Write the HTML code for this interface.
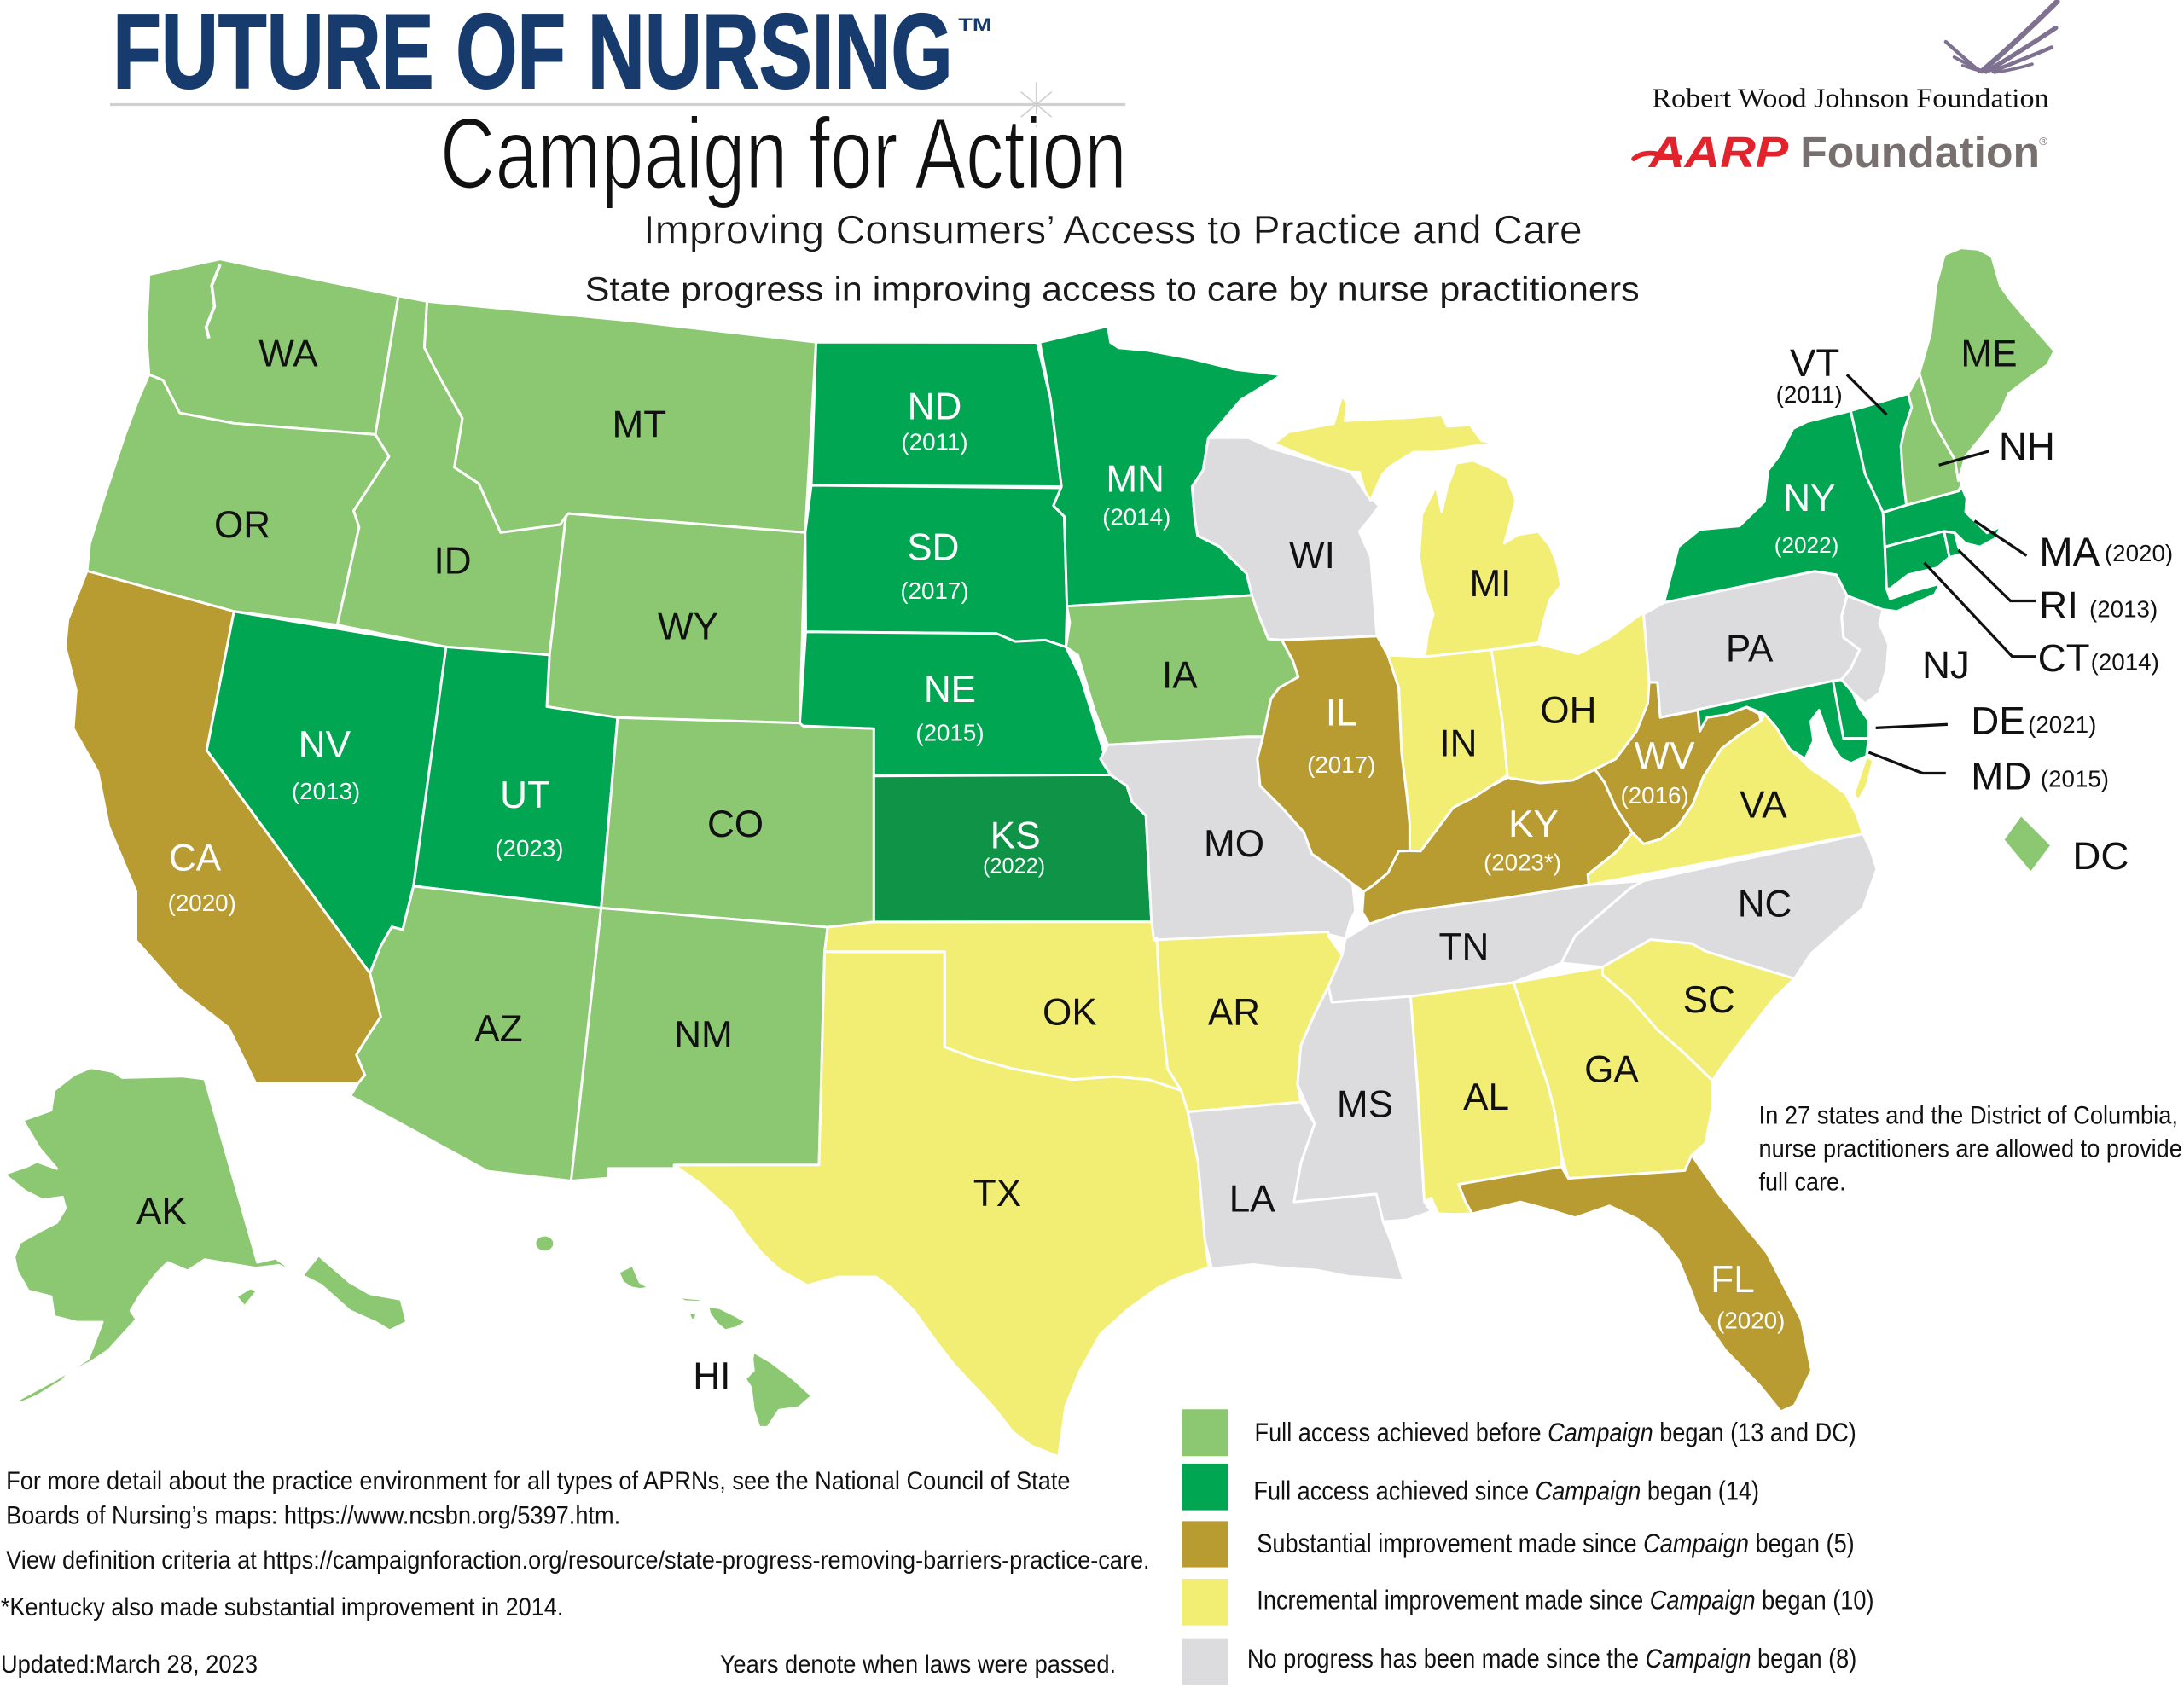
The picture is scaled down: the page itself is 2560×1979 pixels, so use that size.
<!DOCTYPE html>
<html><head><meta charset="utf-8"><style>
html,body{margin:0;padding:0;background:#fff;}
svg{display:block;}
.s{stroke:#fff;stroke-width:1.8;stroke-linejoin:round;}
.lg{fill:#8cc872;}.dg{fill:#00a651;}.ks{fill:#0e9347;}.br{fill:#b89c32;}.ye{fill:#f2ed73;}.gr{fill:#dcdcde;}
text{font-family:"Liberation Sans",sans-serif;}
.lb{font-size:27px;fill:#111;text-anchor:middle;}
.lw{font-size:27px;fill:#fff;text-anchor:middle;}
.yw{font-size:17px;fill:#fff;text-anchor:middle;}
.ls{font-size:28px;fill:#111;}
.ys{font-size:17px;fill:#111;}
.ln{stroke:#111;stroke-width:2;fill:none;}
.t18{font-size:18px;fill:#111;}
.lgd{font-size:19.5px;fill:#111;}
</style></head><body>
<svg xmlns="http://www.w3.org/2000/svg" width="2560" height="1979" viewBox="0 0 1568 1212.13" preserveAspectRatio="none">
<rect x="0" y="0" width="1568" height="1213" fill="#fff"/>

<!-- Header -->
<text x="81" y="63" font-size="76" font-weight="bold" fill="#183b6e" stroke="#183b6e" stroke-width="1.2" textLength="603" lengthAdjust="spacingAndGlyphs">FUTURE OF NURSING</text>
<text x="688" y="22" font-size="13" font-weight="bold" fill="#183b6e" textLength="24" lengthAdjust="spacingAndGlyphs">TM</text>
<line x1="79" y1="75" x2="808" y2="75" stroke="#d0d0d0" stroke-width="2"/>
<g stroke="#cfcfcf" stroke-width="1">
<line x1="744" y1="59" x2="744" y2="91"/>
<line x1="733" y1="66" x2="755" y2="84"/>
<line x1="755" y1="66" x2="733" y2="84"/>
</g>
<text x="316" y="135" font-size="72" fill="#111" stroke="#fff" stroke-width="1.3" textLength="493" lengthAdjust="spacingAndGlyphs">Campaign for Action</text>
<text x="462" y="175" font-size="29" fill="#1a1a1a" stroke="#fff" stroke-width="0.4" textLength="674" lengthAdjust="spacingAndGlyphs">Improving Consumers’ Access to Practice and Care</text>
<text x="420" y="216" font-size="24.5" fill="#1a1a1a" textLength="757" lengthAdjust="spacingAndGlyphs">State progress in improving access to care by nurse practitioners</text>

<!-- RWJF logo -->
<g fill="none" stroke="#7f7190" stroke-linecap="round">
<path d="M1423,51 Q1450,28 1477,1" stroke-width="3.8"/>
<path d="M1427,51 Q1452,36 1476,20" stroke-width="3.3"/>
<path d="M1431,51 Q1454,42 1473,34" stroke-width="2.8"/>
<path d="M1421,51 Q1408,40 1397,30" stroke-width="2.6"/>
<path d="M1423,51 Q1412,46 1403,41" stroke-width="2.3"/>
<path d="M1426,52 Q1417,50 1409,47" stroke-width="2"/>
<path d="M1432,52 Q1446,50 1459,46" stroke-width="2.2"/>
</g>
<text x="1186" y="77" font-family="Liberation Serif" style="font-family:'Liberation Serif',serif" font-size="19.5" fill="#111" textLength="285" lengthAdjust="spacingAndGlyphs">Robert Wood Johnson Foundation</text>
<path d="M1173,114 Q1180,108 1192,111 Q1200,113 1206,113" fill="none" stroke="#e3232b" stroke-width="3.5" stroke-linecap="round"/>
<text x="1184" y="120" font-size="31" font-weight="bold" font-style="italic" fill="#e3232b" textLength="100" lengthAdjust="spacingAndGlyphs">AARP</text>
<text x="1292.5" y="120" font-size="31" font-weight="bold" fill="#77706f" textLength="172" lengthAdjust="spacingAndGlyphs">Foundation</text>
<text x="1464" y="104" font-size="8" fill="#77706f">®</text>

<!-- States -->
<g class="s">
<polygon class="lg" points="107,197 158,186 200,195 286,212.5 269.5,312 168,304 129,296.5 117,273 107,269 105,240"/>
<polygon class="lg" points="107,269 117,273 129,296.5 168,304 269.5,312 279.3,327.8 253.9,366.8 257.8,378.5 242.2,448.8 168,439 62.5,410 64.5,390 74.2,359 89.8,312 100,285"/>
<polygon class="br" points="62.5,410 168,439 148.4,538.7 265.6,698.8 273.4,730.1 265.6,741.8 255.9,757.4 262,772 257,778 183.6,778 164.1,737.9 128.9,710.6 97.7,675.4 97.7,640.2 78.1,593.4 70.3,554.3 52.7,523.1 54.7,495.7 46.9,464.5 48.8,444.9"/>
<polygon class="lg" points="286,212.5 306.6,216.4 304.7,249.6 312.5,265.3 332,300.4 326.2,335.6 343.8,347.3 359.4,382.4 402.3,376.6 406.3,370.7 394.5,470.3 320.3,464.5 242.2,448.8 257.8,378.5 253.9,366.8 279.3,327.8 269.5,312"/>
<polygon class="lg" points="306.6,216.4 449,230 585.9,245.7 578.1,382.4 408.2,368.8 406.3,370.7 402.3,376.6 359.4,382.4 343.8,347.3 326.2,335.6 332,300.4 312.5,265.3 304.7,249.6"/>
<polygon class="lg" points="408.2,368.8 578.1,382.4 574.2,519.2 443.4,515.3 392.6,507.4 394.5,470.3 406.3,370.7"/>
<polygon class="dg" points="168,439 320.3,464.5 296.9,636.3 289.1,667.6 281.3,665.6 273.4,679.3 265.6,698.8 148.4,538.7"/>
<polygon class="dg" points="320.3,464.5 394.5,470.3 392.6,507.4 443.4,515.3 431.6,652 296.9,636.3"/>
<polygon class="lg" points="443.4,515.3 574.2,519.2 576.6,521.3 627.4,523.2 627.4,662 594.2,665.8 431.6,652"/>
<polygon class="lg" points="296.9,636.3 431.6,652 410,848 350,841 251.5,787 257,778 262,772 255.9,757.4 265.6,741.8 273.4,730.1 265.6,698.8 273.4,679.3 281.3,665.6 289.1,667.6"/>
<polygon class="lg" points="431.6,652 594.2,665.8 592,683.4 588,836.5 484,836.6 484,839 437,839 437,846 410,848"/>
<polygon class="ye" points="592,683.4 678.2,683.4 678.2,751.8 700,760 727,767.4 769.9,775.2 800,773 824.6,775.2 848,783 852.8,798.4 860.2,835 865.1,891.2 868,910 845,918 831,925 810,940 790,958 775,985 765,1010 760,1046 740,1038 727,1028 713,1010 700,996 685,980 672.6,964 656,941 640,925 629,917 601.6,917 579.6,923 560,912 547,900 535,885 525,870 503,850 484,836.6 588,836.5"/>
<polygon class="ye" points="594.2,665.8 627.4,662 826.6,661.9 830.5,673.6 833,720 838.3,767.4 848,783 824.6,775.2 800,773 769.9,775.2 727,767.4 700,760 678.2,751.8 678.2,683.4 592,683.4"/>
<polygon class="dg" points="585.9,245.7 744.6,245.9 754.3,286.9 762.1,349.4 582.5,348.5"/>
<polygon class="dg" points="582.5,348.5 762.1,350.4 756.3,363.1 764.1,370.9 766,435.3 765.3,464.6 750.4,459.6 728.9,460.7 715.3,454.9 578.5,453.7 578.1,382.4"/>
<polygon class="dg" points="578.5,453.7 715.3,454.9 728.9,460.7 750.4,459.6 765.3,464.6 775.8,486.1 785.6,517.4 797.3,556.4 627.4,557.2 627.4,523.2 576.6,521.3 574.2,519.2"/>
<polygon class="ks" points="627.4,557.2 797.3,556.4 809,564.3 812.9,576 822.7,585.7 826.6,660 826.6,661.9 627.4,662"/>
<polygon class="dg" points="746.5,245.9 795.3,234.2 797.3,245.9 803.2,249.8 824.6,251.7 855.9,257.6 887.2,265.4 920.3,269.3 891,287 867.6,314.3 863.7,337.7 855.9,349.4 857.8,372.8 859.8,384.6 875.4,392.4 895,411.9 898.8,427.5 766,435.3 764.1,370.9 756.3,363.1 762.1,349.4 754.3,286.9"/>
<polygon class="lg" points="766,435.3 898.8,427.5 902.7,439.2 910.6,458.8 920.3,459.6 928.2,474.4 932.1,486.1 918.4,493.9 912.5,501.8 906.7,529.1 895,529.1 795.3,534.9 785.6,509.6 773.9,470.5 765.3,464.6 768,447"/>
<polygon class="gr" points="795.3,534.9 895,529.1 906.7,529.1 902.7,544.7 904.7,564.3 920.3,579.9 936,597.5 941.8,613.1 961.4,626.8 971.1,634.6 973.1,654.1 969.2,662 966,674 953.7,671 953.7,669.1 828.5,675 826.6,660 822.7,585.7 812.9,576 809,564.3 797.3,556.4 790,545"/>
<polygon class="gr" points="867.6,314.3 896.3,314.4 914.6,322.5 949.4,332.7 969.8,338.9 975.9,347 980,353.2 990.2,363.4 984,372 975.9,381.7 984.1,400.1 986,425 988.1,451.1 988.7,456.8 920.3,459.6 910.6,458.8 902.7,439.2 898.8,427.5 895,411.9 875.4,392.4 859.8,384.6 857.8,372.8 855.9,349.4 863.7,337.7"/>
<polygon class="ye" points="914.6,318.5 924.9,310.3 957.5,304.2 963.6,283.7 967,290 965.7,302.1 984.1,301.1 1010,300 1035.1,298 1039.2,306.2 1055.5,305.2 1063.7,316.4 1075.9,318.5 1060,320 1031,324.6 1014.7,324.6 998.3,334.8 992.2,340.9 984.1,359.3 980,353.2 975.9,338.9 969.8,338.9 949.4,332.7"/>
<polygon class="ye" points="1045.3,332.7 1057.6,330.7 1070,336 1082.1,343 1088.2,359.3 1084.1,375.6 1080,390 1090.2,383.8 1104.5,381.7 1112.7,392 1118,405 1120.8,420.5 1112.7,430.7 1108.6,445 1104.5,461.4 1070,466.6 1022.9,471.6 1025,455 1029,441 1022,420 1018.8,400.1 1020.8,369.5 1031,349.1 1035.1,367.5 1039.2,349.1 1043.3,338.9"/>
<polygon class="br" points="920.3,459.6 988.7,456.8 996.5,470.5 1004.3,494 1006.3,540.8 1010.2,572 1012.1,591.6 1012.1,611 1004.3,611.1 996.5,626.8 984.8,636.5 979,640.4 971.1,634.6 961.4,626.8 941.8,613.1 936,597.5 920.3,579.9 904.7,564.3 902.7,544.7 906.7,529.1 912.5,501.8 918.4,493.9 932.1,486.1 928.2,474.4"/>
<polygon class="ye" points="996.5,470.5 1022.9,471.6 1070.7,466.6 1078.5,517.4 1082.4,556.4 1070.7,564.3 1059,572 1043.4,579.9 1031.7,595.5 1020,611.1 1012.1,611 1012.1,591.6 1010.2,572 1006.3,540.8 1004.3,494"/>
<polygon class="ye" points="1070.7,466.6 1104.5,462.4 1133,469.5 1155,458 1178,441 1180,441 1184,490 1184,510 1175,525 1160,545 1145,552.5 1129.3,560.4 1105.9,562.3 1082.4,558.4 1078.5,517.4"/>
<polygon class="br" points="979,640.4 984.8,636.5 996.5,626.8 1004.3,611.1 1012.1,611 1020,611.1 1031.7,595.5 1043.4,579.9 1059,572 1070.7,564.3 1082.4,558.4 1105.9,562.3 1129.3,560.4 1145,552.5 1152,562 1160,580 1172,598 1160,612 1140,628 1140.7,635.3 1080,645 1007.8,655 983.2,663.5 978,655"/>
<polygon class="br" points="1145,552.5 1160,545 1175,525 1183,505 1184,490 1190,490 1192,515.2 1219,510 1220.4,525 1225.6,515.2 1240,513 1254,507.7 1263,512.7 1264.2,517.7 1248.8,527.7 1235.9,537.7 1223,557.7 1215.3,577.7 1205,592.7 1192,602.7 1180,606 1172,598 1160,580 1152,562"/>
<polygon class="gr" points="1180,441 1194.6,432.7 1302.9,410.2 1318.4,412.7 1326.1,427.7 1322.2,442.7 1323.5,457.7 1335.1,466.5 1328.7,480.2 1322,488 1315.8,489 1219,509.5 1192,515.2 1190,490 1184,490"/>
<polygon class="dg" points="1219,509.5 1315.8,489 1322,488 1323.5,530.2 1341.6,530.2 1340,543 1329,548 1322,545 1315,535 1310,522 1306,510 1300,518 1302,532 1296,545 1285,538 1275,522 1266.8,512.7 1254,507.7 1240,513 1225.6,515.2 1220.4,525"/>
<polygon class="dg" points="1316,489 1322,488 1330,497 1335,508 1341.6,517.7 1341.6,530.2 1323.5,530.2"/>
<polygon class="gr" points="1326.1,427.7 1351.9,437.7 1349.3,447.7 1355.8,462.7 1354.5,480.2 1349.3,497.7 1339,505.2 1330,497 1322,488 1328.7,480.2 1335.1,466.5 1323.5,457.7 1322.2,442.7"/>
<polygon class="dg" points="1194.6,432.7 1205,392.7 1220.4,380.2 1248.8,377.7 1266.8,360.2 1269.4,337.7 1277.1,327.7 1287.4,307.7 1297.8,302.7 1328.7,295 1339,340.2 1351.9,368 1353.2,392.7 1354.5,422.7 1357,430 1375,424 1393,419 1389,427 1362,439 1351.9,437.7 1326.1,427.7 1318.4,412.7 1302.9,410.2"/>
<polygon class="dg" points="1328.7,295 1370,282.7 1372.5,292.7 1367.4,307.7 1364.8,320.2 1366,340 1368.7,362.7 1351.9,368 1339,340.2"/>
<polygon class="lg" points="1370,282.7 1378,268 1388,302.7 1403.5,330.2 1408.6,347.7 1406,352.7 1368.7,362.7 1366,340 1364.8,320.2 1367.4,307.7 1372.5,292.7"/>
<polygon class="lg" points="1378,268 1386,240 1390,205 1396,183 1408,178 1420,179 1430,184 1436,205 1443,215 1460,235 1475,252 1470,262 1455,272.7 1442,282.7 1437,295.2 1421.5,315.2 1411.2,327.7 1406,345.2 1403.5,330.2 1388,302.7"/>
<polygon class="dg" points="1351.9,368 1368.7,362.7 1406,352.7 1408.6,350 1412,358 1411.2,367.7 1418.9,375.2 1426.6,382.7 1437,377.7 1432,387 1421.5,392.7 1411.2,390.2 1403.5,382.7 1395.7,381.5 1353.2,392.7"/>
<polygon class="dg" points="1353.2,392.7 1395.7,381.5 1399.6,400.2 1390.6,407.7 1370,412.7 1357,422.7 1354.5,422.7"/>
<polygon class="dg" points="1395.7,381.5 1403.5,382.7 1406,392.7 1408.6,397.7 1399.6,400.2"/>
<polygon class="ye" points="1192,602.7 1205,592.7 1215.3,577.7 1223,557.7 1235.9,537.7 1248.8,527.7 1264.2,517.7 1266.8,512.7 1275,522 1285,538 1293,545 1300,552 1312,560 1325,570 1333,585 1337.5,598.8 1140.7,635.3 1140,628 1160,612 1172,598 1180,606"/>
<polygon class="ye" points="1340,543 1345,546 1340,565 1334,575 1331,570 1336,555"/>
<polygon class="ye" points="828.5,675 953.7,669.1 953.7,671.9 963.5,686 953.7,708.4 943.8,728.1 934,750.6 931.5,778.8 934,791.4 852.8,798.4 848,783 838.3,767.4 833,720 830.5,673.6"/>
<polygon class="gr" points="966,674 983.2,663.5 1007.8,655 1080,645 1140.7,635.3 1180,632.5 1170.2,638.1 1150.5,655 1131,671.9 1121,691.6 1086.6,705.6 1012.7,715.5 956.2,719.7 953.7,708.4 963.5,686"/>
<polygon class="gr" points="1180,632.5 1337.5,598.8 1343,610 1347.4,624.1 1337.5,652.2 1317.9,669.1 1300,685 1288.3,702.8 1224.4,683.1 1214.5,677.5 1185,674.7 1150.5,694.4 1121,691.6 1131,671.9 1150.5,655 1170.2,638.1"/>
<polygon class="ye" points="1150.5,694.4 1185,674.7 1214.5,677.5 1224.4,683.1 1288.3,702.8 1273.6,716.9 1253.9,742.2 1239.1,761.9 1229.3,775.9 1210,757 1189.9,739.4 1170.2,716.9 1150.5,700"/>
<polygon class="ye" points="1086.6,705.6 1150.5,694.4 1150.5,700 1170.2,716.9 1189.9,739.4 1210,757 1229.3,775.9 1229.3,795.6 1224.4,821 1214.5,829.4 1209.6,840.6 1126,846.2 1121,829.4 1116.1,798.4 1111.2,778.8"/>
<polygon class="ye" points="1012.7,715.5 1086.6,705.6 1111.2,778.8 1116.1,798.4 1121,829.4 1121,837.8 1047.2,850.5 1052.1,863.1 1057,871.5 1045,872 1032.4,871.5 1027.5,860.3 1022.6,863.1 1017.6,778.8"/>
<polygon class="br" points="1047.2,850.5 1121,837.8 1126,846.2 1209.6,840.6 1214.5,829.4 1234.2,857.5 1268.6,899.7 1293.2,947.5 1300.6,984.1 1288.3,1009.3 1278.5,1013.6 1263.7,995.3 1239.1,970 1219.4,941.8 1214.5,927.8 1205,905 1190,885.6 1175,875 1155.4,865.9 1130.8,874.4 1110,868 1091.5,863.1 1057,871.5 1052.1,863.1"/>
<polygon class="gr" points="956.2,719.7 1012.7,715.5 1017.6,778.8 1022.6,863.1 1027.5,870 1010,876 993,877.2 988.1,857.5 929,863.1 934,835 943.8,806.9 931.5,778.8 934,750.6 943.8,728.1 953.7,708.4"/>
<polygon class="gr" points="852.8,798.4 934,791.4 943.8,806.9 934,835 929,863.1 988.1,857.5 993,877.2 1000,895 1007.8,919.4 990,918 968.4,916.6 945,912 924.2,910.9 900,908 870,910.9 865.1,891.2 860.2,835"/>
<!-- Alaska -->
<polygon class="lg" points="65.3,766.7 81.7,769.7 87.8,773.8 130.7,772.8 147,774.8 184.8,906.5 198,903.5 216.4,916.7 228.7,901.4 251.1,920.8 265.4,929 287.9,933.1 292,949.4 279.7,955.5 269.5,949.4 251.1,941.2 230.7,922.9 218.5,916.7 200.1,908.6 183.7,910.6 147,904.5 134.7,912.6 120.5,906.5 112.3,914.7 100,931 93.9,941.2 98,947.4 77.6,969.8 65.3,978 49,986.2 44.9,991.3 26.5,1002.5 12.2,1008.6 14.3,1004.5 40.8,990.2 63.3,975.9 73.5,949.4 55.1,949.4 38.8,945.3 36.7,931 20.4,927 12.2,912.6 10.2,902.4 14.3,892.2 28.6,884.1 40.8,877.9 47,867.7 44.9,859.6 30.6,861.6 18.4,855.5 3.1,843.2 20.4,837.1 26.5,834.1 40.8,839.2 28.6,824.9 16.3,804.4 36.7,797.3 38.8,783 53.1,771.8"/>
<polygon class="lg" points="169.5,931 179.7,924.9 184.8,926.9 175.6,938.2"/>
<!-- Hawaii -->
<ellipse class="lg" cx="391" cy="893" rx="7" ry="6"/>
<polygon class="lg" points="444,913.6 454.2,908.5 459.4,920.7 466.5,924.8 459.4,925.8 453.2,924.8 447.1,920.7"/>
<polygon class="lg" points="483.9,931 504.3,933 502.2,935 492,934.6"/>
<polygon class="lg" points="494,942.2 500.2,943.2 499.2,948.3 496.1,947.3"/>
<polygon class="lg" points="508.3,938.1 516.5,939.1 528.8,945.2 535.9,949.3 528.8,953.4 520.6,955.4 514.5,950.3 509.4,943.2"/>
<polygon class="lg" points="541,970.8 553.3,977.9 569.6,990.2 582.9,1002.4 573.7,1010.6 559.4,1012.6 551.2,1024.9 545.1,1024.9 541,1012.6 539,996.3 534.9,990.2 541,984 540,975.9"/>
<!-- DC -->
<polygon class="lg" points="1451,585 1473,607 1458,627 1438,603"/>
</g>
<polyline points="158,190 152,205 154,220 148,235 150,243" fill="none" stroke="#fff" stroke-width="2.2"/>

<!-- State labels -->
<text class="lb" x="207" y="263">WA</text>
<text class="lb" x="174" y="386">OR</text>
<text class="lb" x="459" y="314">MT</text>
<text class="lb" x="325" y="412">ID</text>
<text class="lb" x="494" y="459">WY</text>
<text class="lw" x="233" y="544">NV</text><text class="yw" x="234" y="574">(2013)</text>
<text class="lw" x="377" y="580">UT</text><text class="yw" x="380" y="615">(2023)</text>
<text class="lb" x="528" y="601">CO</text>
<text class="lw" x="140" y="625">CA</text><text class="yw" x="145" y="654">(2020)</text>
<text class="lb" x="358" y="748">AZ</text>
<text class="lb" x="505" y="752">NM</text>
<text class="lw" x="671" y="301">ND</text><text class="yw" x="671" y="323">(2011)</text>
<text class="lw" x="815" y="353">MN</text><text class="yw" x="816" y="377">(2014)</text>
<text class="lw" x="670" y="402">SD</text><text class="yw" x="671" y="430">(2017)</text>
<text class="lw" x="682" y="504">NE</text><text class="yw" x="682" y="532">(2015)</text>
<text class="lw" x="729" y="609">KS</text><text class="yw" x="728" y="627" style="font-size:15.5px">(2022)</text>
<text class="lb" x="847" y="494">IA</text>
<text class="lb" x="886" y="615">MO</text>
<text class="lb" x="942" y="408">WI</text>
<text class="lb" x="1070" y="428">MI</text>
<text class="lw" x="963" y="521">IL</text><text class="yw" x="963" y="555">(2017)</text>
<text class="lb" x="1047" y="543">IN</text>
<text class="lb" x="1126" y="519">OH</text>
<text class="lw" x="1101" y="601">KY</text><text class="yw" x="1093" y="625">(2023*)</text>
<text class="lw" x="1195" y="552">WV</text><text class="yw" x="1188" y="577">(2016)</text>
<text class="lb" x="1266" y="587">VA</text>
<text class="lb" x="1256" y="475">PA</text>
<text class="lw" x="1299" y="367">NY</text><text class="yw" x="1297" y="397" style="font-size:16px">(2022)</text>
<text class="lb" x="1051" y="689">TN</text>
<text class="lb" x="1267" y="658">NC</text>
<text class="lb" x="768" y="736">OK</text>
<text class="lb" x="886" y="736">AR</text>
<text class="lb" x="716" y="866">TX</text>
<text class="lb" x="899" y="870">LA</text>
<text class="lb" x="980" y="802">MS</text>
<text class="lb" x="1067" y="797">AL</text>
<text class="lb" x="1157" y="777">GA</text>
<text class="lb" x="1227" y="727">SC</text>
<text class="lw" x="1244" y="928">FL</text><text class="yw" x="1257" y="954">(2020)</text>
<text class="lb" x="116" y="879">AK</text>
<text class="lb" x="511" y="997">HI</text>
<text class="lb" x="1428" y="263">ME</text>

<!-- Northeast callouts -->
<text class="ls" x="1285" y="270">VT</text>
<text class="ys" x="1275" y="289">(2011)</text>
<line class="ln" x1="1326" y1="269" x2="1354.5" y2="297.7"/>
<text class="ls" x="1435" y="330">NH</text>
<line class="ln" x1="1428" y1="324" x2="1392" y2="334"/>
<text class="ls" x="1464" y="406" style="font-size:29px">MA</text>
<text class="ys" x="1511" y="403">(2020)</text>
<line class="ln" x1="1417.6" y1="374" x2="1455" y2="399"/>
<text class="ls" x="1464" y="444">RI</text>
<text class="ys" x="1500" y="443">(2013)</text>
<polyline class="ln" points="1406,395 1443.4,431.5 1461.5,431.5"/>
<text class="ls" x="1463" y="482">CT</text>
<text class="ys" x="1501" y="481">(2014)</text>
<polyline class="ln" points="1381.5,404 1444.7,471.5 1461.5,471.5"/>
<text class="ls" x="1380" y="487">NJ</text>
<text class="ls" x="1415" y="527">DE</text>
<text class="ys" x="1456" y="526">(2021)</text>
<line class="ln" x1="1346.7" y1="522.7" x2="1398.3" y2="520.2"/>
<text class="ls" x="1415" y="567">MD</text>
<text class="ys" x="1465" y="565">(2015)</text>
<polyline class="ln" points="1341.6,540.2 1380.2,555.2 1397,555.2"/>
<text class="ls" x="1488" y="624">DC</text>

<!-- Right note -->
<text class="t18" x="1262.7" y="806.9" textLength="301" lengthAdjust="spacingAndGlyphs">In 27 states and the District of Columbia,</text>
<text class="t18" x="1262.7" y="830.8" textLength="304" lengthAdjust="spacingAndGlyphs">nurse practitioners are allowed to provide</text>
<text class="t18" x="1262.7" y="854.7" textLength="62.5" lengthAdjust="spacingAndGlyphs">full care.</text>

<!-- Legend -->
<rect x="848.7" y="1012" width="33.3" height="33.7" fill="#8cc872"/>
<rect x="848.7" y="1051" width="33.3" height="33.5" fill="#00a651"/>
<rect x="848.7" y="1092.3" width="33.3" height="33.2" fill="#b89c32"/>
<rect x="848.7" y="1133.7" width="33.3" height="33.5" fill="#f2ed73"/>
<rect x="848.7" y="1176.4" width="33.3" height="33.6" fill="#dcdcde"/>
<text class="lgd" x="900.7" y="1035" textLength="432" lengthAdjust="spacingAndGlyphs">Full access achieved before <tspan font-style="italic">Campaign</tspan> began (13 and DC)</text>
<text class="lgd" x="900" y="1077" textLength="363" lengthAdjust="spacingAndGlyphs">Full access achieved since <tspan font-style="italic">Campaign</tspan> began (14)</text>
<text class="lgd" x="902.4" y="1114.7" textLength="429" lengthAdjust="spacingAndGlyphs">Substantial improvement made since <tspan font-style="italic">Campaign</tspan> began (5)</text>
<text class="lgd" x="902.4" y="1155.6" textLength="443" lengthAdjust="spacingAndGlyphs">Incremental improvement made since <tspan font-style="italic">Campaign</tspan> began (10)</text>
<text class="lgd" x="895.4" y="1197.4" textLength="437.6" lengthAdjust="spacingAndGlyphs">No progress has been made since the <tspan font-style="italic">Campaign</tspan> began (8)</text>

<!-- Bottom-left notes -->
<text class="t18" x="4.4" y="1069.4" textLength="764" lengthAdjust="spacingAndGlyphs">For more detail about the practice environment for all types of APRNs, see the National Council of State</text>
<text class="t18" x="4.4" y="1094.2" textLength="441" lengthAdjust="spacingAndGlyphs">Boards of Nursing’s maps: https://www.ncsbn.org/5397.htm.</text>
<text class="t18" x="4.4" y="1126.4" textLength="821" lengthAdjust="spacingAndGlyphs">View definition criteria at https://campaignforaction.org/resource/state-progress-removing-barriers-practice-care.</text>
<text class="t18" x="0.5" y="1160.1" textLength="404" lengthAdjust="spacingAndGlyphs">*Kentucky also made substantial improvement in 2014.</text>
<text class="t18" x="0.5" y="1201" textLength="184.5" lengthAdjust="spacingAndGlyphs">Updated:March 28, 2023</text>
<text class="t18" x="516.8" y="1201" textLength="284.4" lengthAdjust="spacingAndGlyphs">Years denote when laws were passed.</text>
</svg>
</body></html>
